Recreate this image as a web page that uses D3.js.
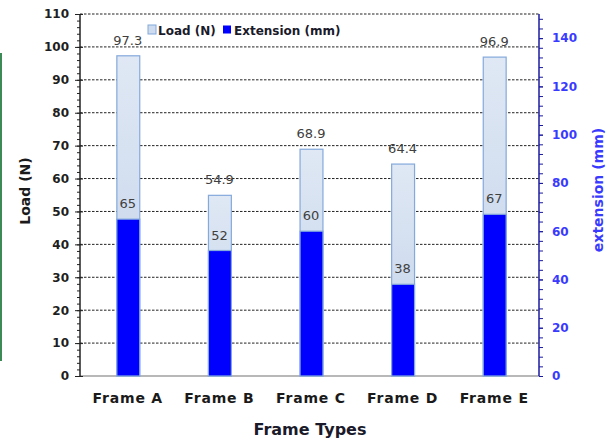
<!DOCTYPE html>
<html>
<head>
<meta charset="utf-8">
<script src="https://cdn.jsdelivr.net/npm/d3@7"></script>
<style>
  html, body { margin: 0; padding: 0; background: #fff; }
  svg { display: block; }
</style>
</head>
<body>
<svg id="chart" width="607" height="440"></svg>
<script>
// Frame test results
const frames = ["Frame A", "Frame B", "Frame C", "Frame D", "Frame E"];
const loadN = [97.3, 54.9, 68.9, 64.4, 96.9];
const extensionMm = [65, 52, 60, 38, 67];
const loadTicks = [0, 10, 20, 30, 40, 50, 60, 70, 80, 90, 100, 110];
const extTicks = [0, 20, 40, 60, 80, 100, 120, 140];

(function () {
const svg = d3.select("#chart");
const plotLeft = 80, plotRight = 539, plotTop = 14, plotBottom = 376;

const x = d3.scaleBand().domain(frames).range([82, 540])
  .paddingInner(0.75).paddingOuter(0.375);
const yL = d3.scaleLinear().domain([0, 110]).range([plotBottom, plotTop]);
const yR = d3.scaleLinear().domain([0, 150]).range([plotBottom, plotTop]);

// gradient for load bars
const defs = svg.append("defs");
const grad = defs.append("linearGradient").attr("id", "loadGrad")
  .attr("x1", 0).attr("y1", 0).attr("x2", 0).attr("y2", 1);
grad.append("stop").attr("offset", "0%").attr("stop-color", "#dfe8f4");
grad.append("stop").attr("offset", "100%").attr("stop-color", "#c2d2ea");

// edge strip on the far left
svg.append("rect").attr("x", 0).attr("y", 53).attr("width", 2).attr("height", 308)
  .attr("fill", "#3c8a55");

// dashed gridlines
svg.append("g").selectAll("line").data(loadTicks.filter(d => d > 0)).join("line")
  .attr("x1", plotLeft).attr("x2", plotRight)
  .attr("y1", d => yL(d)).attr("y2", d => yL(d))
  .attr("stroke", "#222").attr("stroke-width", 1).attr("stroke-dasharray", "2.5,1.5");

// baseline
svg.append("line").attr("x1", plotLeft).attr("x2", plotRight).attr("y1", plotBottom).attr("y2", plotBottom)
  .attr("stroke", "#a0a0a0").attr("stroke-width", 1.5);

// load bars
svg.append("g").selectAll("rect").data(frames).join("rect")
  .attr("x", d => x(d) + 0.5)
  .attr("y", (d, i) => yL(loadN[i]))
  .attr("width", x.bandwidth())
  .attr("height", (d, i) => plotBottom - yL(loadN[i]))
  .attr("fill", "url(#loadGrad)")
  .attr("stroke", "#84a9dc").attr("stroke-width", 1.2);

// extension bars
svg.append("g").selectAll("rect").data(frames).join("rect")
  .attr("x", d => x(d) + 0.5)
  .attr("y", (d, i) => yR(extensionMm[i]))
  .attr("width", x.bandwidth())
  .attr("height", (d, i) => plotBottom - yR(extensionMm[i]))
  .attr("fill", "#0000ff")
  .attr("stroke", "#84a9dc").attr("stroke-width", 1.2);

// value labels
const valFont = "'DejaVu Sans', Verdana, sans-serif";
svg.append("g").selectAll("text").data(frames).join("text")
  .attr("x", d => x(d) + x.bandwidth() / 2)
  .attr("y", (d, i) => yL(loadN[i]) - 11)
  .attr("text-anchor", "middle")
  .attr("font-family", valFont).attr("font-size", 13).attr("fill", "#404040")
  .text((d, i) => loadN[i]);
svg.append("g").selectAll("text").data(frames).join("text")
  .attr("x", d => x(d) + x.bandwidth() / 2)
  .attr("y", (d, i) => yR(extensionMm[i]) - 11)
  .attr("text-anchor", "middle")
  .attr("font-family", valFont).attr("font-size", 13).attr("fill", "#404040")
  .text((d, i) => extensionMm[i]);

// left axis
const gl = svg.append("g").attr("transform", `translate(${plotLeft},0)`);
gl.call(d3.axisLeft(yL).tickValues(d3.range(0, 111, 2)).tickSize(3).tickFormat(""));
gl.selectAll(".tick line").attr("stroke", "#222");
gl.select(".domain").remove();
const glMajor = svg.append("g").attr("transform", `translate(${plotLeft},0)`)
  .call(d3.axisLeft(yL).tickValues(loadTicks).tickSize(5).tickPadding(6));
glMajor.select(".domain").attr("d", `M0,${plotTop}V${plotBottom}`).attr("stroke", "#222").attr("stroke-width", 1.5);
glMajor.selectAll(".tick line").attr("x2", -5).attr("x1", 3).attr("stroke", "#222");
glMajor.selectAll(".tick text")
  .attr("font-family", valFont).attr("font-weight", "bold").attr("font-size", 12)
  .attr("fill", "#1e1e1e");

// right axis
const gr = svg.append("g").attr("transform", `translate(${plotRight},0)`);
gr.call(d3.axisRight(yR).tickValues(d3.range(0, 151, 4)).tickSize(4).tickFormat(""));
gr.selectAll(".tick line").attr("stroke", "#1a1aa0");
gr.select(".domain").remove();
const grMajor = svg.append("g").attr("transform", `translate(${plotRight},0)`)
  .call(d3.axisRight(yR).tickValues(extTicks).tickSize(4).tickPadding(9));
grMajor.select(".domain").attr("d", `M0,${plotTop}V${plotBottom}`).attr("stroke", "#1a1aa0").attr("stroke-width", 1.5);
grMajor.selectAll(".tick line").attr("stroke", "#1a1aa0");
grMajor.selectAll(".tick text")
  .attr("font-family", valFont).attr("font-weight", "bold").attr("font-size", 12)
  .attr("fill", "#3a3aff");

// category labels
svg.append("g").selectAll("text").data(frames).join("text")
  .attr("x", d => x(d) + x.bandwidth() / 2)
  .attr("y", 403)
  .attr("text-anchor", "middle")
  .attr("font-family", valFont).attr("font-weight", "bold").attr("font-size", 14)
  .attr("letter-spacing", 0.8)
  .attr("fill", "#1a1a1a")
  .text(d => d);

// axis titles
svg.append("text").attr("x", 310).attr("y", 435).attr("text-anchor", "middle")
  .attr("font-family", valFont).attr("font-weight", "bold").attr("font-size", 16)
  .attr("fill", "#1a1a2a").text("Frame Types");
svg.append("text").attr("transform", "translate(30,191) rotate(-90)")
  .attr("text-anchor", "middle")
  .attr("font-family", valFont).attr("font-weight", "bold").attr("font-size", 14)
  .attr("fill", "#1a1a1a").text("Load (N)");
svg.append("text").attr("transform", "translate(603,190) rotate(-90)")
  .attr("text-anchor", "middle")
  .attr("font-family", valFont).attr("font-weight", "bold").attr("font-size", 14)
  .attr("fill", "#3a3aff").text("extension (mm)");

// legend
const lg = svg.append("g").attr("transform", "translate(148,25)");
lg.append("rect").attr("x", 0).attr("y", 0).attr("width", 8).attr("height", 9)
  .attr("fill", "#cfdcef").attr("stroke", "#84a9dc");
lg.append("text").attr("x", 10).attr("y", 9.5)
  .attr("font-family", valFont).attr("font-weight", "bold").attr("font-size", 12)
  .attr("fill", "#1a1a2a").text("Load (N)");
lg.append("rect").attr("x", 75).attr("y", 0.5).attr("width", 8).attr("height", 8)
  .attr("fill", "#0000ff");
lg.append("text").attr("x", 86).attr("y", 9.5)
  .attr("font-family", valFont).attr("font-weight", "bold").attr("font-size", 12)
  .attr("fill", "#1a1a2a").text("Extension (mm)");
})();
</script>
</body>
</html>
